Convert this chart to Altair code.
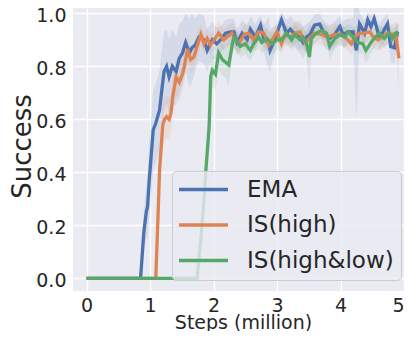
import altair as alt
import pandas as pd

series_names = ["EMA", "IS(high)", "IS(high&low)"]
series_colors = ["#4C72B0", "#DD8452", "#55A868"]

ema_x = [0.00, 0.85, 0.88, 0.90, 0.94, 0.96, 0.99, 1.02, 1.05, 1.09, 1.15, 1.18, 1.22, 1.26, 1.30,
         1.35, 1.41, 1.46, 1.51, 1.56, 1.62, 1.66, 1.71, 1.77, 1.85, 1.90, 1.98, 2.05, 2.11, 2.19,
         2.27, 2.32, 2.37, 2.45, 2.53, 2.58, 2.66, 2.74, 2.79, 2.87, 2.89, 2.97, 3.07, 3.15, 3.21,
         3.28, 3.36, 3.41, 3.46, 3.52, 3.59, 3.67, 3.75, 3.83, 3.91, 3.99, 4.04, 4.12, 4.20, 4.25,
         4.30, 4.38, 4.43, 4.48, 4.53, 4.61, 4.67, 4.74, 4.79, 4.85, 4.90]
ema_y = [0.00, 0.00, 0.10, 0.17, 0.25, 0.27, 0.38, 0.47, 0.56, 0.585, 0.635, 0.70, 0.78, 0.80, 0.76,
         0.80, 0.78, 0.83, 0.85, 0.89, 0.85, 0.87, 0.88, 0.91, 0.90, 0.86, 0.90, 0.885, 0.90, 0.925,
         0.93, 0.93, 0.89, 0.925, 0.90, 0.94, 0.91, 0.955, 0.905, 0.885, 0.86, 0.905, 0.975, 0.925, 0.94,
         0.92, 0.91, 0.89, 0.91, 0.92, 0.955, 0.96, 0.92, 0.905, 0.92, 0.95, 0.92, 0.93, 0.93, 0.86,
         0.96, 0.925, 0.975, 0.95, 0.98, 0.91, 0.93, 0.96, 0.875, 0.87, 0.93]
ema_sd = [0.00, 0.00, 0.05, 0.08, 0.10, 0.12, 0.15, 0.15, 0.15, 0.15, 0.15, 0.15, 0.15, 0.14, 0.14,
          0.14, 0.13, 0.13, 0.12, 0.11, 0.13, 0.13, 0.10, 0.09, 0.09, 0.08, 0.07, 0.06, 0.05, 0.05,
          0.05, 0.05, 0.05, 0.05, 0.05, 0.05, 0.05, 0.04, 0.05, 0.10, 0.08, 0.05, 0.03, 0.05, 0.05,
          0.05, 0.06, 0.06, 0.05, 0.05, 0.04, 0.04, 0.05, 0.05, 0.05, 0.04, 0.05, 0.05, 0.05, 0.26,
          0.04, 0.05, 0.03, 0.04, 0.02, 0.05, 0.05, 0.04, 0.06, 0.06, 0.04]

ish_x = [0.00, 1.09, 1.12, 1.15, 1.18, 1.20, 1.23, 1.26, 1.30, 1.33, 1.36, 1.41, 1.46, 1.51, 1.54,
         1.59, 1.64, 1.69, 1.74, 1.80, 1.85, 1.90, 1.95, 2.01, 2.08, 2.16, 2.21, 2.29, 2.35, 2.40,
         2.48, 2.55, 2.63, 2.71, 2.79, 2.87, 2.92, 3.00, 3.07, 3.13, 3.21, 3.28, 3.36, 3.44, 3.51,
         3.59, 3.70, 3.80, 3.91, 4.01, 4.09, 4.17, 4.22, 4.30, 4.38, 4.46, 4.52, 4.59, 4.66, 4.74,
         4.82, 4.87, 4.92]
ish_y = [0.00, 0.00, 0.20, 0.41, 0.51, 0.58, 0.60, 0.61, 0.60, 0.625, 0.69, 0.76, 0.74, 0.77, 0.80,
         0.865, 0.825, 0.835, 0.875, 0.92, 0.885, 0.905, 0.88, 0.90, 0.925, 0.90, 0.91, 0.925, 0.90, 0.885,
         0.92, 0.925, 0.90, 0.93, 0.925, 0.88, 0.90, 0.93, 0.885, 0.92, 0.91, 0.925, 0.93, 0.89, 0.905,
         0.925, 0.92, 0.91, 0.92, 0.92, 0.905, 0.885, 0.91, 0.925, 0.925, 0.93, 0.91, 0.90, 0.91, 0.925,
         0.92, 0.925, 0.83]
ish_sd = [0.00, 0.00, 0.04, 0.06, 0.07, 0.08, 0.08, 0.08, 0.08, 0.07, 0.07, 0.07, 0.07, 0.06, 0.06,
          0.05, 0.05, 0.05, 0.05, 0.04, 0.04, 0.04, 0.04, 0.04, 0.04, 0.04, 0.04, 0.04, 0.04, 0.04,
          0.04, 0.04, 0.04, 0.03, 0.04, 0.04, 0.04, 0.03, 0.04, 0.04, 0.04, 0.04, 0.03, 0.04, 0.04,
          0.04, 0.04, 0.04, 0.04, 0.04, 0.04, 0.04, 0.04, 0.04, 0.04, 0.03, 0.04, 0.04, 0.04, 0.04,
          0.04, 0.04, 0.13]

ishl_x = [0.00, 1.74, 1.80, 1.85, 1.88, 1.93, 1.955, 1.98, 2.03, 2.08, 2.14, 2.19, 2.24, 2.29, 2.32,
          2.36, 2.42, 2.50, 2.58, 2.63, 2.71, 2.76, 2.84, 2.92, 3.00, 3.07, 3.15, 3.23, 3.28, 3.36,
          3.41, 3.46, 3.51, 3.54, 3.62, 3.70, 3.78, 3.83, 3.91, 3.99, 4.07, 4.12, 4.20, 4.27, 4.35,
          4.40, 4.48, 4.53, 4.61, 4.69, 4.77, 4.82, 4.87, 4.91]
ishl_y = [0.00, 0.00, 0.15, 0.30, 0.41, 0.57, 0.76, 0.785, 0.77, 0.85, 0.825, 0.815, 0.805, 0.875, 0.91,
          0.90, 0.875, 0.885, 0.86, 0.885, 0.91, 0.89, 0.905, 0.885, 0.90, 0.90, 0.925, 0.90, 0.92, 0.90,
          0.91, 0.89, 0.835, 0.905, 0.925, 0.935, 0.925, 0.875, 0.905, 0.92, 0.91, 0.93, 0.91, 0.89, 0.885,
          0.86, 0.89, 0.905, 0.925, 0.905, 0.925, 0.905, 0.925, 0.93]
ishl_sd = [0.00, 0.00, 0.05, 0.05, 0.05, 0.06, 0.06, 0.06, 0.06, 0.06, 0.06, 0.06, 0.08, 0.05, 0.04,
           0.04, 0.04, 0.04, 0.04, 0.04, 0.04, 0.04, 0.04, 0.04, 0.04, 0.04, 0.03, 0.04, 0.04, 0.04,
           0.04, 0.04, 0.13, 0.04, 0.03, 0.03, 0.03, 0.05, 0.04, 0.04, 0.04, 0.03, 0.04, 0.04, 0.04,
           0.05, 0.04, 0.04, 0.03, 0.04, 0.03, 0.04, 0.03, 0.03]

x_ticks = [0, 1, 2, 3, 4, 5]
y_ticks = [0.0, 0.2, 0.4, 0.6, 0.8, 1.0]

frames = []
for name, xs, ys, sds in [
    ("EMA", ema_x, ema_y, ema_sd),
    ("IS(high)", ish_x, ish_y, ish_sd),
    ("IS(high&low)", ishl_x, ishl_y, ishl_sd),
]:
    d = pd.DataFrame({"step": xs, "success": ys, "sd": sds})
    d["lo"] = d["success"] - d["sd"]
    d["hi"] = d["success"] + d["sd"]
    d["series"] = name
    d["order"] = series_names.index(name)
    frames.append(d)
df = pd.concat(frames, ignore_index=True)

font = "DejaVu Sans"
text_color = "#262626"

x_enc = alt.X(
    "step:Q",
    scale=alt.Scale(domain=[-0.214, 5.0], nice=False, zero=False),
    axis=alt.Axis(
        values=x_ticks, format="d", title="Steps (million)", domain=False, ticks=False,
        labelFontSize=19, labelPadding=5, labelColor=text_color, labelFont=font, labelFlush=True,
        titleFontSize=19, titleFont=font, titleColor=text_color, titleFontWeight="normal",
        titleX=170, titleY=37, titleBaseline="alphabetic", titleAnchor="middle",
        grid=True, gridColor="white", gridWidth=1.3,
    ),
)
y_scale = alt.Scale(domain=[-0.048, 1.02], nice=False, zero=False)
y_axis = alt.Axis(
    values=y_ticks, format=".1f", title="Success", domain=False, ticks=False,
    labelFontSize=19, labelPadding=7, labelColor=text_color, labelFont=font, labelOffset=2,
    titleFontSize=26, titleFont=font, titleColor=text_color, titleFontWeight="normal",
    titleX=-43, titleY=138, titleAngle=270, titleBaseline="alphabetic", titleAnchor="middle",
    grid=True, gridColor="white", gridWidth=1.3,
)

bands = alt.Chart(df).mark_area(opacity=0.13, clip=True).encode(
    x=x_enc,
    y=alt.Y("lo:Q", scale=y_scale, axis=y_axis),
    y2="hi:Q",
    fill=alt.Fill("series:N", scale=alt.Scale(domain=series_names, range=series_colors), legend=None),
    detail="series:N",
)

lines = alt.Chart(df).mark_line(strokeWidth=3.3, clip=True).encode(
    x=x_enc,
    y=alt.Y("success:Q", scale=y_scale, axis=y_axis),
    stroke=alt.Stroke(
        "series:N",
        scale=alt.Scale(domain=series_names, range=series_colors),
        legend=alt.Legend(
            title=None, orient="none", legendX=99, legendY=163,
            symbolType="M-2.5,0H2.5", symbolSize=384, symbolStrokeWidth=3.3,
            symbolOffset=13,
            labelFontSize=23, labelFont=font, labelColor=text_color, labelOffset=32,
            padding=7, rowPadding=11.5, fillColor="rgba(234,234,242,0.8)",
            strokeColor="#cccccc", cornerRadius=4, labelLimit=300,
        ),
    ),
    order="order:Q",
)

chart = alt.layer(bands, lines).resolve_scale(fill="independent", stroke="independent").properties(
    width=331, height=283,
    autosize=alt.AutoSizeParams(type="none"),
    padding={"left": 65, "top": 0, "right": 0, "bottom": 40},
    background="white",
).configure_view(fill="#EAEAF2", stroke=None)

chart.save("out.html", embed_options={"renderer": "svg", "actions": False})
